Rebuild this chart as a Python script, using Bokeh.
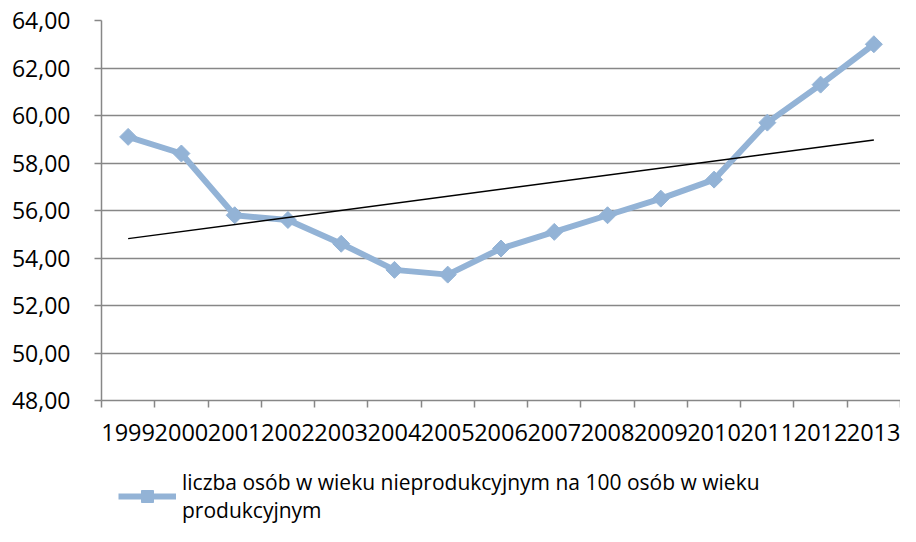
import numpy as np
from bokeh.plotting import figure
from bokeh.layouts import column
from bokeh.models import FixedTicker, Range1d, Legend, LegendItem, ColumnDataSource
from bokeh.embed import file_html
from bokeh.resources import INLINE

years = ["1999", "2000", "2001", "2002", "2003", "2004", "2005", "2006",
         "2007", "2008", "2009", "2010", "2011", "2012", "2013"]
values = [59.1, 58.4, 55.8, 55.6, 54.6, 53.5, 53.3, 54.4,
          55.1, 55.8, 56.5, 57.3, 59.7, 61.3, 63.0]
y_ticks = [48, 50, 52, 54, 56, 58, 60, 62, 64]
series_name = "liczba osób w wieku nieprodukcyjnym na 100 osób w wieku\nprodukcyjnym"

FONT = "Open Sans"
LINE_COLOR = "#93B3D6"
GRID = "#878787"

xs = list(range(len(years)))
coef = np.polyfit(xs, values, 1)
trend_x = [xs[0], xs[-1]]
trend_y = [float(np.polyval(coef, v)) for v in trend_x]

p = figure(width=900, height=450, output_backend="svg", toolbar_location=None,
           x_range=Range1d(-0.5, len(years) - 0.5), y_range=Range1d(48, 64),
           min_border_left=101, min_border_right=0, min_border_top=20,
           min_border_bottom=50)
p.outline_line_color = None
p.background_fill_color = "white"

# grid
p.xgrid.grid_line_color = None
p.ygrid.ticker = FixedTicker(ticks=y_ticks)
p.ygrid.grid_line_color = GRID
p.ygrid.grid_line_width = 1.5

# y axis
ya = p.yaxis[0]
ya.ticker = FixedTicker(ticks=y_ticks)
ya.major_label_overrides = {t: f"{t:.2f}".replace(".", ",") for t in y_ticks}
ya.axis_line_color = GRID
ya.axis_line_width = 1.5
ya.major_tick_line_color = GRID
ya.major_tick_line_width = 1.5
ya.major_tick_out = 7
ya.major_tick_in = 0
ya.minor_tick_line_color = None
ya.major_label_standoff = 24
ya.major_label_text_font = FONT
ya.major_label_text_font_size = "23px"
ya.major_label_text_color = "black"

# x axis
xa = p.xaxis[0]
xa.ticker = FixedTicker(ticks=xs, minor_ticks=[i - 0.5 for i in range(len(years) + 1)])
xa.major_label_overrides = {i: y for i, y in enumerate(years)}
xa.axis_line_color = GRID
xa.axis_line_width = 1.5
xa.major_tick_line_color = None
xa.major_tick_out = 0
xa.major_tick_in = 0
xa.minor_tick_line_color = GRID
xa.minor_tick_line_width = 1.5
xa.minor_tick_out = 7
xa.minor_tick_in = 0
xa.major_label_standoff = 16
xa.major_label_text_font = FONT
xa.major_label_text_font_size = "23.5px"
xa.major_label_text_color = "black"

src = ColumnDataSource(dict(x=xs, y=values))
p.line("x", "y", source=src, line_color=LINE_COLOR, line_width=6)
p.scatter("x", "y", source=src, marker="square", angle=np.pi / 4, size=12,
          fill_color=LINE_COLOR, line_color=LINE_COLOR)
p.line(trend_x, trend_y, line_color="black", line_width=1.5)

# legend strip below the chart (its sample glyphs use the data, kept out of view)
p2 = figure(width=900, height=76, output_backend="svg", toolbar_location=None,
            x_range=Range1d(-0.5, len(years) - 0.5), y_range=Range1d(0, 1),
            min_border_left=0, min_border_right=0, min_border_top=0,
            min_border_bottom=0)
p2.axis.visible = False
p2.grid.visible = False
p2.outline_line_color = None
lln = p2.line("x", "y", source=src, line_color=LINE_COLOR, line_width=6)
lsc = p2.scatter("x", "y", source=src, marker="square", angle=np.pi / 4, size=12,
                 fill_color=LINE_COLOR, line_color=LINE_COLOR)

legend = Legend(items=[LegendItem(label=series_name, renderers=[lln, lsc])],
                location=(17, 0), orientation="vertical")
legend.border_line_color = None
legend.background_fill_alpha = 0
legend.label_text_font = FONT
legend.label_text_font_size = "21px"
legend.label_text_color = "black"
legend.label_text_line_height = 1.4
legend.glyph_width = 58
legend.glyph_height = 30
legend.label_standoff = 6
legend.label_height = 60
legend.margin = 0
legend.padding = 0
p2.add_layout(legend, "center")

layout = column(p, p2, spacing=0)
open("out.html", "w").write(file_html(layout, INLINE))
